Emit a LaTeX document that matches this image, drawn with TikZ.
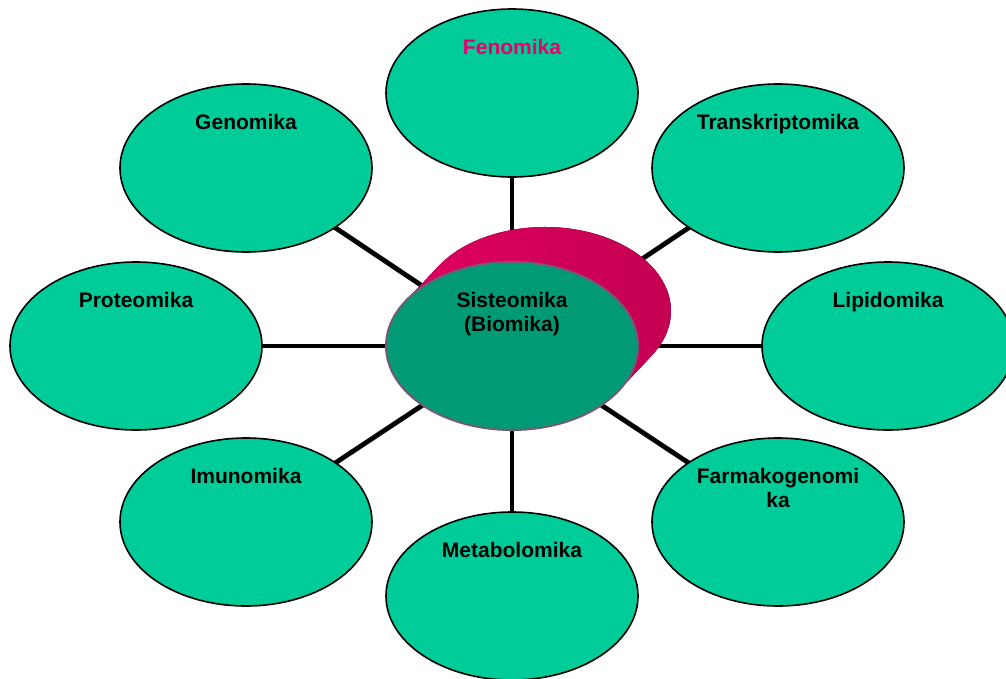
\documentclass[tikz,border=0pt]{standalone}
\usepackage{fontspec}
\setmainfont{Liberation Sans}
\usetikzlibrary{shapes.geometric,backgrounds,calc}

\definecolor{leafgreen}{HTML}{00CC99}
\definecolor{coregreen}{HTML}{009B74}
\definecolor{rimpink}{HTML}{E3005F}
\definecolor{rimdark}{HTML}{C20052}
\definecolor{corerim}{HTML}{735A78}
\definecolor{fenopink}{HTML}{E8006E}

\begin{document}
\begin{tikzpicture}[x=0.75pt, y=-0.75pt,
    omika/.style={ellipse, draw=black, line width=1.2pt, fill=leafgreen,
                  minimum width=189pt, minimum height=126pt, inner sep=0pt},
    omlabel/.style={font=\bfseries\fontsize{15.75}{18}\selectfont,
                    align=center, anchor=north, inner sep=0pt},
    spoke/.style={line width=3.6pt, black}]

    % --- Parameters ---
    \def\rx{126}       % half width of every ellipse
    \def\ry{84}        % half height of every ellipse
    \def\tup{-53.5}    % offset of the label top from the ellipse centre

    \useasboundingbox (0,0) rectangle (1006,678);

    % --- Outer ellipses ---
    \node[omika] (feno)  at (512,93)  {};
    \node[omika] (geno)  at (246,168) {};
    \node[omika] (trans) at (778,168) {};
    \node[omika] (prot)  at (136,346) {};
    \node[omika] (lipid) at (888,346) {};
    \node[omika] (imun)  at (246,522) {};
    \node[omika] (farm)  at (778,522) {};
    \node[omika] (meta)  at (512,596) {};

    % --- Pink rim behind the centre (hull of the ellipse and its shifted copy) ---
    \fill[left color=rimpink, middle color=rimpink, right color=rimdark]
        (618.7,390.7) arc[start angle=32.15, end angle=212.15, x radius=\rx, y radius=\ry]
        -- (438.3,266.3) arc[start angle=212.15, end angle=392.15, x radius=\rx, y radius=\ry]
        -- cycle;

    % --- Centre ellipse ---
    \node[ellipse, draw=corerim, line width=1.5pt, fill=coregreen,
          minimum width=189pt, minimum height=126pt, inner sep=0pt] (sist) at (512,346) {};

    % --- Spokes from the centre, kept behind the ellipses ---
    \begin{pgfonlayer}{background}
        \foreach \leaf in {feno,geno,trans,prot,lipid,imun,farm,meta}
            \draw[spoke] (sist.center) -- (\leaf.center);
    \end{pgfonlayer}

    % --- Labels ---
    \node[omlabel, text=fenopink] (fenoL) at ($(feno.center)+(0,\tup)$) {Fenomika};
    \node[omlabel] (genoL)  at ($(geno.center)+(0,\tup)$)  {Genomika};
    \node[omlabel] (transL) at ($(trans.center)+(0,\tup)$) {Transkriptomika};
    \node[omlabel] (protL)  at ($(prot.center)+(0,\tup)$)  {Proteomika};
    \node[omlabel] (lipidL) at ($(lipid.center)+(0,\tup)$) {Lipidomika};
    \node[omlabel] (imunL)  at ($(imun.center)+(0,\tup)$)  {Imunomika};
    \node[omlabel] (farmL)  at ($(farm.center)+(0,\tup)$)  {Farmakogenomi\\ka};
    \node[omlabel] (metaL)  at ($(meta.center)+(0,\tup)$)  {Metabolomika};
    \node[omlabel] (sistL)  at ($(sist.center)+(0,\tup)$)  {Sisteomika\\(Biomika)};

\end{tikzpicture}
\end{document}
